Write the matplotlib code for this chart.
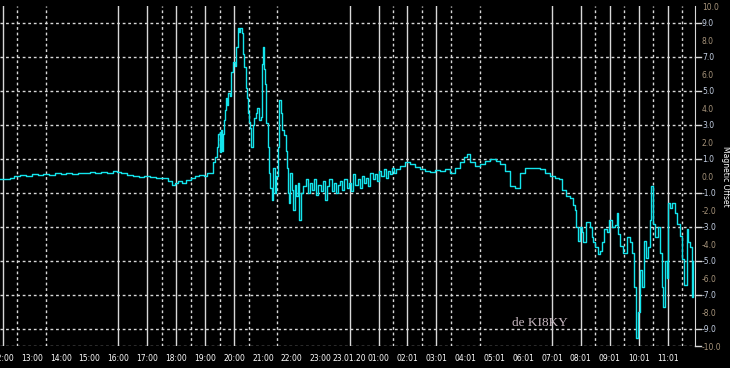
import numpy as np
import matplotlib
matplotlib.use("Agg")
import matplotlib.pyplot as plt

# hours after 12:00 and magnetic offset
hours = [-0.10, 0.10, 0.25, 0.40, 0.60, 0.80, 1.00, 1.20, 1.40, 1.60, 1.80, 2.00, 2.20, 2.40,
         2.60, 2.80, 3.00, 3.20, 3.40, 3.60, 3.80, 3.95, 4.10, 4.30, 4.50, 4.70, 4.90, 5.10,
         5.30, 5.50, 5.70, 5.85, 5.95, 6.05, 6.20, 6.35, 6.50, 6.65, 6.80, 6.95, 7.05, 7.20,
         7.27, 7.34, 7.40, 7.44, 7.50, 7.52, 7.55, 7.58, 7.61, 7.65, 7.68, 7.72, 7.76, 7.80,
         7.86, 7.90, 7.96, 8.02, 8.08, 8.12, 8.18, 8.22, 8.26, 8.30, 8.36, 8.40, 8.44, 8.48,
         8.52, 8.56, 8.60, 8.64, 8.70, 8.76, 8.80, 8.85, 8.92, 8.96, 9.00, 9.04, 9.08, 9.12,
         9.16, 9.20, 9.25, 9.30, 9.35, 9.40, 9.45, 9.52, 9.56, 9.62, 9.66, 9.72, 9.78, 9.82,
         9.86, 9.90, 9.95, 10.00, 10.05, 10.10, 10.15, 10.20, 10.25, 10.30, 10.40, 10.48,
         10.55, 10.62, 10.70, 10.78, 10.85, 10.92, 11.00, 11.08, 11.15, 11.22, 11.30, 11.38,
         11.45, 11.52, 11.60, 11.68, 11.75, 11.82, 11.90, 11.98, 12.05, 12.12, 12.20, 12.28,
         12.35, 12.42, 12.50, 12.58, 12.65, 12.72, 12.80, 12.88, 12.95, 13.02, 13.10, 13.18,
         13.25, 13.32, 13.40, 13.48, 13.55, 13.62, 13.74, 13.90, 14.08, 14.25, 14.43, 14.60,
         14.78, 14.95, 15.12, 15.30, 15.47, 15.65, 15.81, 15.95, 16.06, 16.16, 16.35, 16.51,
         16.70, 16.85, 17.05, 17.20, 17.37, 17.54, 17.72, 17.89, 18.05, 18.24, 18.40, 18.58,
         18.75, 18.93, 19.10, 19.25, 19.34, 19.50, 19.62, 19.72, 19.79, 19.83, 19.90, 19.97,
         20.03, 20.07, 20.17, 20.31, 20.38, 20.42, 20.48, 20.59, 20.66, 20.73, 20.80, 20.90,
         20.97, 21.07, 21.18, 21.25, 21.28, 21.35, 21.45, 21.59, 21.70, 21.76, 21.83, 21.90,
         21.97, 22.04, 22.11, 22.18, 22.25, 22.32, 22.39, 22.42, 22.49, 22.56, 22.66, 22.73,
         22.80, 22.84, 22.91, 22.98, 23.01, 23.08, 23.15, 23.25, 23.32, 23.42, 23.49, 23.56,
         23.67, 23.70, 23.77, 23.84, 23.88]
offset = [-0.20, -0.15, -0.10, 0.00, 0.05, 0.02, 0.10, 0.05, 0.12, 0.08, 0.15, 0.10, 0.18, 0.12,
          0.20, 0.15, 0.22, 0.18, 0.25, 0.20, 0.30, 0.22, 0.15, 0.05, 0.00, -0.05, 0.00, -0.05,
          -0.10, -0.10, -0.30, -0.55, -0.40, -0.30, -0.40, -0.25, -0.10, 0.00, 0.05, 0.00, 0.15, 0.20,
          0.80, 1.10, 1.70, 2.50, 2.60, 1.40, 2.70, 1.50, 2.50, 3.30, 3.90, 4.60, 4.20, 4.90,
          4.70, 6.10, 6.70, 6.50, 7.60, 8.70, 8.50, 8.70, 8.40, 7.20, 6.40, 5.20, 4.60, 3.70,
          3.20, 2.80, 1.70, 3.00, 3.40, 3.70, 4.00, 3.30, 3.50, 6.60, 7.60, 6.30, 5.40, 3.10,
          1.70, 0.20, -0.70, -1.40, 0.50, -1.00, 0.00, 1.70, 4.50, 3.70, 2.70, 2.40, 1.50, 0.50,
          -1.00, -1.60, 0.20, -0.80, -2.00, -0.50, -1.20, -0.40, -2.60, -1.00, -0.60, -0.20,
          -1.00, -0.40, -0.80, -0.20, -1.10, -0.50, -0.90, -0.30, -1.40, -0.60, -0.20, -0.90,
          -0.40, -1.00, -0.50, -0.30, -0.80, -0.20, -0.70, -0.40, -0.90, 0.10, -0.50, -0.20,
          -0.70, 0.00, -0.40, -0.10, -0.60, 0.20, -0.20, 0.10, -0.30, 0.30, 0.00, 0.40,
          -0.10, 0.30, 0.10, 0.50, 0.20, 0.40, 0.60, 0.80, 0.70, 0.55, 0.40, 0.30,
          0.25, 0.35, 0.30, 0.40, 0.20, 0.50, 0.80, 1.10, 1.30, 0.80, 0.60, 0.70,
          0.90, 1.00, 0.90, 0.70, 0.30, -0.60, -0.70, 0.20, 0.50, 0.50, 0.45, 0.40,
          0.20, 0.00, -0.10, -0.20, -0.80, -1.20, -1.30, -1.70, -2.00, -3.00, -3.80, -3.00,
          -3.30, -3.90, -2.70, -3.00, -3.60, -3.90, -4.20, -4.60, -4.40, -3.90, -3.10, -3.30,
          -2.60, -3.00, -2.90, -2.20, -3.40, -4.10, -4.50, -3.60, -3.90, -4.50, -6.50, -9.50,
          -8.00, -5.50, -6.50, -3.80, -4.80, -4.20, -2.60, -0.60, -2.80, -3.60, -3.00, -4.50,
          -6.50, -7.70, -5.00, -6.00, -1.60, -1.90, -1.60, -2.20, -2.80, -3.50, -4.90, -6.40,
          -3.10, -3.90, -4.20, -7.10, -5.00]

tick_hours = list(range(0, 24))
tick_labels = ["12:00", "13:00", "14:00", "15:00", "16:00", "17:00", "18:00", "19:00",
               "20:00", "21:00", "22:00", "23:00", "23.01.20", "01:00", "02:01", "03:01",
               "04:01", "05:01", "06:01", "07:01", "08:01", "09:01", "10:01", "11:01"]
solid_hours = [0, 4, 5, 6, 7, 8, 12, 13, 14, 15, 19, 20, 21, 22, 23]
dashed_hours = [0.5, 1.5, 5.5, 6.5, 7.5, 8.5, 9.5, 13.5, 14.5, 15.5, 16.5, 20.5, 21.5, 22.5, 23.5]

fig = plt.figure(figsize=(7.3, 3.68), dpi=100, facecolor="black")
ax = fig.add_axes([0, 22 / 368, 695 / 730, 340 / 368], facecolor="black")

for h in solid_hours:
    ax.axvline(h, color="#d8d8d8", lw=1.0, zorder=1)
for h in dashed_hours:
    ax.axvline(h, color="#d8d8d8", lw=1.0, ls=(0, (2, 2)), zorder=1)
for v in [9, 7, 5, 3, 1, -1, -3, -5, -7, -9, -10]:
    ax.axhline(v, color="#d8d8d8", lw=1.0, ls=(0, (2, 2)), zorder=1)

ax.plot(hours, offset, color="#14e4ec", lw=1.0, zorder=3, drawstyle="steps-post")

ax.set_xlim(-0.1, 23.95)
ax.set_ylim(-10, 10)

for s in ["top", "left", "bottom"]:
    ax.spines[s].set_visible(False)
ax.spines["right"].set_color("#d8d8d8")

ax.yaxis.tick_right()
ax.yaxis.set_label_position("right")
yt = np.arange(-10, 11, 1)
ax.set_yticks(yt)
ax.set_yticklabels([f"{v:.1f}" for v in yt])
ax.tick_params(axis="y", length=0, pad=5, labelsize=5.5)
for lab, v in zip(ax.get_yticklabels(), yt):
    lab.set_color("#c4d0e4" if v % 2 else "#a8957c")
for v in [9, 7, 5, 3, 1, -1, -3, -5, -7, -9, -10]:
    ax.plot([1.0, 1.009], [v, v], transform=ax.get_yaxis_transform(), color="#d8d8d8",
            lw=1.0, clip_on=False)
ax.set_ylabel("Magnetic Offset", color="white", fontsize=5.5, rotation=270, labelpad=6)

ax.set_xticks(tick_hours)
ax.set_xticklabels(tick_labels)
ax.tick_params(axis="x", length=0, pad=6, labelsize=5.5, colors="white")

ax.text(540 / 695, 0.068, "de KI8KY", transform=ax.transAxes, color="#c8b8c0",
        fontsize=9.5, family="Liberation Serif", ha="center", va="center")

fig.savefig("out.png", dpi=100, facecolor="black")
